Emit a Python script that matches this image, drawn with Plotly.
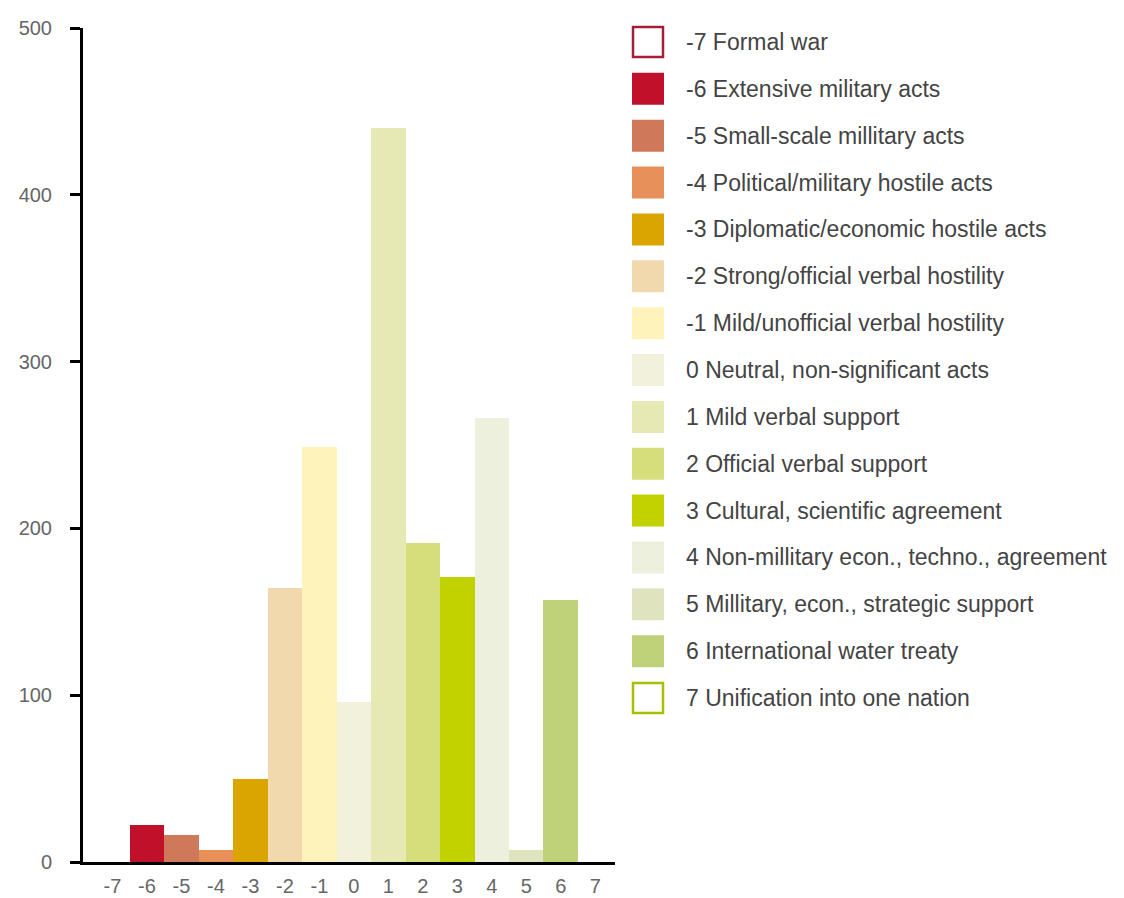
import plotly.graph_objects as go

# ---- data ----
categories = [-7, -6, -5, -4, -3, -2, -1, 0, 1, 2, 3, 4, 5, 6, 7]
counts = [0, 22, 16, 7, 50, 164, 249, 96, 440, 191, 171, 266, 7, 157, 0]
labels = [
    "-7 Formal war",
    "-6 Extensive military acts",
    "-5 Small-scale millitary acts",
    "-4 Political/military hostile acts",
    "-3 Diplomatic/economic hostile acts",
    "-2 Strong/official verbal hostility",
    "-1 Mild/unofficial verbal hostility",
    "0 Neutral, non-significant acts",
    "1 Mild verbal support",
    "2 Official verbal support",
    "3 Cultural, scientific agreement",
    "4 Non-millitary econ., techno., agreement",
    "5 Millitary, econ., strategic support",
    "6 International water treaty",
    "7 Unification into one nation",
]
fill_colors = ["#ffffff", "#c0102a", "#d0785a", "#e8905a", "#dba500", "#f2d9ad",
               "#fdf3bb", "#f2f1dc", "#e7e9b5", "#d6de7c", "#c2d200", "#edf0dc",
               "#dfe4bf", "#bfd27a", "#ffffff"]
edge_colors = ["#a0203a", "#c0102a", "#d0785a", "#e8905a", "#dba500", "#f2d9ad",
               "#fdf3bb", "#f2f1dc", "#e7e9b5", "#d6de7c", "#c2d200", "#edf0dc",
               "#dfe4bf", "#bfd27a", "#a8c000"]
y_ticks = [0, 100, 200, 300, 400, 500]

# ---- layout geometry (pixels) ----
W, H = 1124, 898
plot_left, plot_right, plot_top, plot_bottom = 83, 615, 28, 862
ML, MT = plot_left, plot_top
MR, MB = W - plot_right, H - plot_bottom
plot_w = W - ML - MR
plot_h = H - MT - MB

FONT = "Liberation Sans, Arial, sans-serif"


def px_to_paper_x(px):
    return (px - ML) / plot_w


def px_to_paper_y(py):
    return (H - MB - py) / plot_h


fig = go.Figure()
fig.add_trace(go.Bar(
    x=categories, y=counts,
    marker=dict(color=fill_colors, line=dict(width=0)),
    showlegend=False, hoverinfo="x+y",
))

# custom legend (boxes + labels)
box = 32
x0 = 632
row0, row_step = 42, 46.86
for i, (lab, fc, ec) in enumerate(zip(labels, fill_colors, edge_colors)):
    cy = row0 + i * row_step
    outlined = fc.lower() == "#ffffff"
    ins = 1 if outlined else 0
    fig.add_shape(
        type="rect", xref="paper", yref="paper",
        x0=px_to_paper_x(x0 + ins), x1=px_to_paper_x(x0 + box - ins),
        y0=px_to_paper_y(cy + box / 2 - ins), y1=px_to_paper_y(cy - box / 2 + ins),
        fillcolor=fc,
        line=dict(color=ec, width=2.5 if outlined else 0),
    )
    fig.add_annotation(
        xref="paper", yref="paper",
        x=px_to_paper_x(684), y=px_to_paper_y(cy),
        text=lab, showarrow=False, xanchor="left", yanchor="middle",
        font=dict(family=FONT, size=23, color="#444444"),
    )

fig.update_layout(
    width=W, height=H,
    margin=dict(l=ML, r=MR, t=MT, b=MB, pad=0, autoexpand=False),
    paper_bgcolor="white", plot_bgcolor="white",
    bargap=0,
    xaxis=dict(
        range=[-7.855, 7.574], tickmode="array", tickvals=categories,
        ticktext=[str(c) for c in categories],
        automargin=False,
        showgrid=False, zeroline=False,
        showline=True, linecolor="black", linewidth=3,
        ticks="", ticklabelstandoff=4,
        tickfont=dict(family=FONT, size=20, color="#666666"),
        fixedrange=True,
    ),
    yaxis=dict(
        range=[0, 500], tickmode="array", tickvals=y_ticks,
        automargin=False,
        showgrid=False, zeroline=False,
        showline=True, linecolor="black", linewidth=3,
        ticks="outside", ticklen=10, tickwidth=3, tickcolor="black",
        ticklabelstandoff=14,
        tickfont=dict(family=FONT, size=20, color="#666666"),
        fixedrange=True,
    ),
    showlegend=False,
)

fig.write_html(
    "out.html",
    config={"displayModeBar": False},
    post_script=(
        "var s='margin:0;padding:0;overflow:hidden;width:1124px;height:898px;';"
        "document.documentElement.style.cssText=s;"
        "document.body.style.cssText=s;"
        "var gd=document.getElementById('{plot_id}');"
        "gd.parentElement.style.cssText=s+'line-height:0;';"
    ),
)
